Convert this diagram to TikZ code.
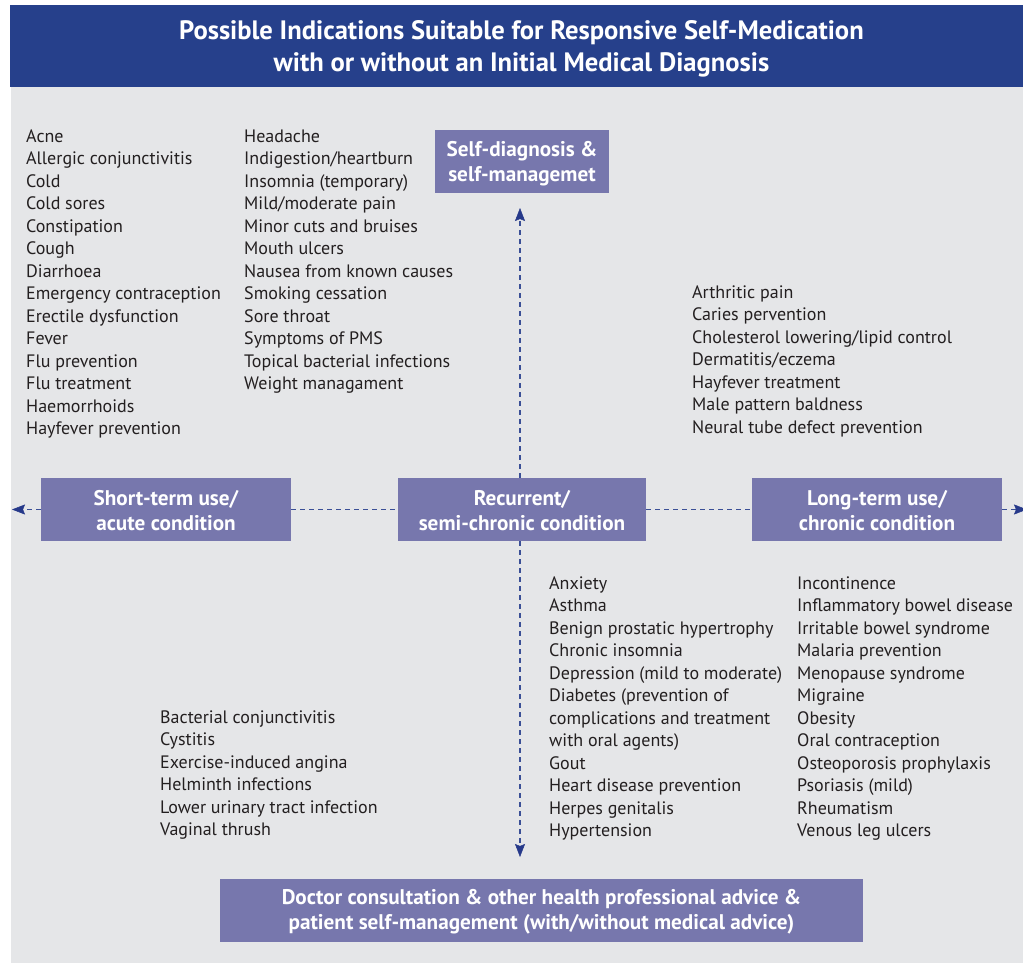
\documentclass[tikz,border=0pt]{standalone}
\usepackage{fontspec}
\setmainfont{PT Sans}
\usetikzlibrary{arrows.meta}
\definecolor{hdrblue}{RGB}{38,64,139}
\definecolor{boxpurple}{RGB}{119,119,173}
\definecolor{bggray}{RGB}{229,230,232}
\definecolor{txtdark}{RGB}{35,31,32}
\definecolor{lineblue}{RGB}{58,79,150}
\definecolor{tipblue}{RGB}{38,57,138}
\tikzset{
  catbox/.style={fill=boxpurple, text=white, font=\fontsize{21.2}{25}\selectfont\bfseries, align=center, inner sep=0pt},
  boxtext/.style={text=white, font=\fontsize{21.2}{25}\selectfont\bfseries, align=center, inner sep=0pt},
  item/.style={anchor=base west, inner sep=0pt, text=txtdark, font=\fontsize{18}{20}\selectfont},
  dashline/.style={draw=lineblue, line width=1.7pt, dash pattern=on 5pt off 4pt},
  tipped/.style={dashline, -{Stealth[length=13pt, width=10pt, inset=2pt, color=tipblue, fill=tipblue, line width=0.5pt]}}
}
\newcommand{\itemlist}[4]{% name, x, y0, list
  \foreach \t [count=\i from 0] in {#4} {
    \node[item] (#1-\i) at (#2, #3+\i*22.46) {\t};
  }
}
\begin{document}
\begin{tikzpicture}[x=1pt, y=-1pt]
\clip (0,0) rectangle (1023,965);
\fill[white] (0,0) rectangle (1023,965);
\fill[bggray] (11,87) rectangle (1023,963);
\node[fill=hdrblue, minimum width=1013pt, minimum height=82pt, inner sep=0pt, anchor=north west] (header) at (10,5) {};
\node[text=white, align=center, inner sep=0pt, font=\fontsize{26.6}{32}\selectfont\bfseries] (title) at (521.5,49)
  {Possible Indications Suitable for Responsive Self-Medication\\with or without an Initial Medical Diagnosis};

\node[catbox, minimum width=174pt, minimum height=63pt] (sd) at (522,161.5) {};
\node[boxtext] (sdt) at (522,163.5) {Self-diagnosis \&\\self-managemet};
\node[catbox, minimum width=250pt, minimum height=63pt] (st) at (166,509.5) {};
\node[boxtext] (stt) at (166,510.5) {Short-term use/\\acute condition};
\node[catbox, minimum width=248pt, minimum height=63pt] (rc) at (522,509.5) {};
\node[boxtext] (rct) at (522,510.5) {Recurrent/\\semi-chronic condition};
\node[catbox, minimum width=250pt, minimum height=63pt] (lt) at (877,509.5) {};
\node[boxtext] (ltt) at (877,510.5) {Long-term use/\\chronic condition};
\node[catbox, minimum width=643pt, minimum height=63pt] (dc) at (541.5,910.5) {};
\node[boxtext] (dct) at (541.5,912) {Doctor consultation \& other health professional advice \&\\patient self-management (with/without medical advice)};

\coordinate (lefttip) at (12,509.5);
\coordinate (righttip) at (1027,509.5);
\coordinate (uptip) at (520,208);
\coordinate (downtip) at (520,857);

\draw[dashline] (st.east) -- (rc.west);
\draw[dashline] (rc.east) -- (lt.west);
\draw[tipped] (st.west) -- (lefttip);
\draw[tipped] (lt.east) -- (righttip);
\draw[tipped] (uptip |- rc.north) -- (uptip);
\draw[tipped] (downtip |- rc.south) -- (downtip);

\itemlist{a}{26}{142.5}{Acne,Allergic conjunctivitis,Cold,Cold sores,Constipation,Cough,Diarrhoea,Emergency contraception,Erectile dysfunction,Fever,Flu prevention,Flu treatment,Haemorrhoids,Hayfever prevention}
\itemlist{b}{244}{142.5}{Headache,Indigestion/heartburn,Insomnia (temporary),Mild/moderate pain,Minor cuts and bruises,Mouth ulcers,Nausea from known causes,Smoking cessation,Sore throat,Symptoms of PMS,Topical bacterial infections,Weight managament}
\itemlist{c}{692}{298.5}{Arthritic pain,Caries pervention,Cholesterol lowering/lipid control,Dermatitis/eczema,Hayfever treatment,Male pattern baldness,Neural tube defect prevention}
\itemlist{d}{160}{723.5}{Bacterial conjunctivitis,Cystitis,Exercise-induced angina,Helminth infections,Lower urinary tract infection,Vaginal thrush}
\itemlist{e}{549}{589.5}{Anxiety,Asthma,Benign prostatic hypertrophy,Chronic insomnia,Depression (mild to moderate),Diabetes (prevention of,complications and treatment,with oral agents),Gout,Heart disease prevention,Herpes genitalis,Hypertension}
\itemlist{f}{797}{589.5}{Incontinence,Inflammatory bowel disease,Irritable bowel syndrome,Malaria prevention,Menopause syndrome,Migraine,Obesity,Oral contraception,Osteoporosis prophylaxis,Psoriasis (mild),Rheumatism,Venous leg ulcers}
\end{tikzpicture}
\end{document}
